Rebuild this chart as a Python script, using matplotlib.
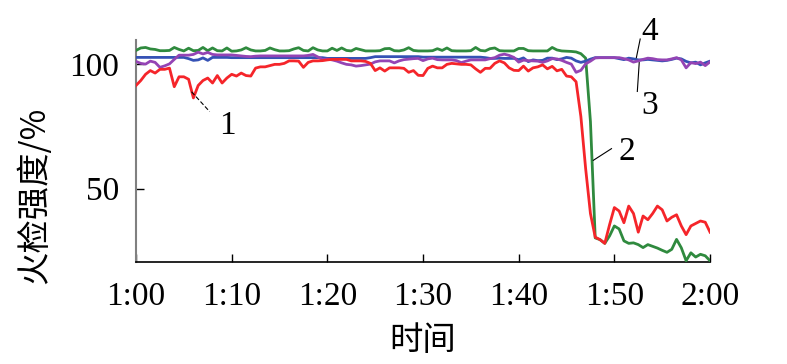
import numpy as np
import matplotlib.pyplot as plt

# --- datos (muestras cada 30 s, 1:00 - 2:00) ---
minutos = np.arange(0, 60.5, 0.5)
etiquetas_x = ["1:00", "1:10", "1:20", "1:30", "1:40", "1:50", "2:00"]
pos_x = [0, 10, 20, 30, 40, 50, 60]

rojo_1 = [
    91.5, 93.5, 96, 97.5, 96.5, 98, 98, 98.5, 91, 95,
    95, 94, 86.5, 91.5, 93.5, 94.5, 92.5, 95.5, 92.5, 94.5,
    96, 95.3, 96.5, 95.5, 95.3, 98.5, 99, 99, 99.5, 100,
    100, 100.4, 101.4, 101.4, 101.3, 98.8, 100.8, 101.4, 101.4, 101.5,
    101.8, 102, 102, 102, 102, 101.4, 101.4, 101.4, 101.2, 100.4,
    97.5, 98.6, 97.3, 98.6, 98.6, 98.6, 98.4, 96.8, 97.5, 95.6,
    95.5, 98.4, 99.3, 98.6, 98.6, 100, 100.4, 100.2, 100, 100,
    99.8, 98.2, 96.8, 98.4, 98.4, 100.4, 101.4, 100.6, 98.6, 97.6,
    97.5, 99.3, 97.3, 98.6, 99, 99.8, 98.2, 99.2, 97.4, 98,
    95.3, 95, 93, 79, 58, 40, 30.5, 29.5, 28, 35.5,
    42.4, 41, 36.3, 43, 40, 32.5, 39, 37.5, 40, 43,
    41.5, 37, 38.5, 39.5, 35, 31.5, 35, 36, 37, 36.5,
    32.5,
]

verde_2 = [
    105.6, 106.6, 106.8, 106.2, 106, 105.5, 105.5, 105.6, 106.8, 106,
    105.4, 106.5, 105.5, 105.6, 106.8, 105.5, 106.6, 105.5, 105.4, 106.6,
    105.3, 105.4, 105.8, 106.7, 105.8, 105.4, 105.4, 105.6, 106.6, 105.9,
    105.4, 105.4, 105.5, 106.2, 106.7, 105.6, 105.4, 106.7, 105.8, 105.4,
    105.4, 106.5, 105.6, 106.6, 105.6, 105.4, 106.4, 105.9, 105.4, 105.4,
    105.4, 105.5, 106.3, 106.4, 105.5, 105.4, 105.8, 106.7, 105.6, 105.4,
    105.4, 105.4, 105.5, 106.3, 105.6, 106.6, 105.5, 105.4, 105.4, 105.4,
    105.5, 106.8, 105.6, 105.4, 106.3, 106.6, 105.5, 105.4, 105.4, 105.4,
    106.4, 106.4, 105.5, 105.4, 105.4, 105.4, 105.4, 106.8, 105.8, 105.4,
    105.3, 105.2, 105, 104.3, 102.5, 77, 30.2, 29.5, 28, 31,
    35, 33.8, 29, 28, 28.2, 27.5, 26.3, 27.5, 26.8, 26.1,
    25.2, 24.4, 25.6, 29.6, 26.2, 21, 24.2, 22.5, 23.6, 23,
    21,
]

morado_3 = [
    101.2, 100.4, 100.1, 101.3, 100.8, 98.8, 99.4, 100.2, 102, 103.7,
    103.7, 103.7, 104, 104.9, 104.2, 104.8, 104, 103.8, 103.8, 103.8,
    103.8, 103.6, 103.4, 103.2, 103.1, 103.3, 103.4, 103.4, 103.4, 103.4,
    103.4, 103.4, 103.4, 103.4, 103.4, 103.4, 103.6, 104, 103, 102,
    102.1, 101.8, 101.3, 100.6, 100, 99.8, 99.3, 99.5, 99.8, 100.1,
    101, 101.4, 101.4, 101.4, 100.6, 101.4, 101.9, 102.1, 102.3, 102.4,
    101.5, 102.2, 102.5, 101.9, 101.8, 101.8, 101.8, 101.5, 100.7, 101.3,
    101.8, 101.8, 101.8, 101.8, 102.3, 102.7, 103.7, 104.1, 103.6, 102.8,
    100.9, 101.7, 101.5, 101.4, 101.3, 100.8, 101.4, 102.3, 102.2, 101.6,
    100.8, 100.1, 96.8, 97.6, 100.2, 101.3, 102.6, 102.7, 102.7, 102.7,
    102.7, 102.7, 102.3, 101.8, 100.9, 101.4, 102, 102.5, 102.3, 101.9,
    101.8, 101.8, 102.2, 102.7, 101.8, 98.6, 100.7, 100.3, 100.9, 99.5,
    101,
]

azul_4 = [
    102.8, 102.8, 102.8, 102.8, 102.8, 102.8, 102.8, 102.8, 102.8, 102.8,
    102.8, 102.3, 101.6, 101.8, 102.6, 101.6, 102.8, 102.8, 102.8, 102.8,
    102.7, 102.7, 102.7, 102.7, 102.7, 102.7, 102.7, 102.7, 102.7, 102.7,
    102.7, 102.7, 102.7, 102.7, 102.7, 102.7, 102.7, 102.7, 102.7, 102.7,
    102.4, 102.4, 102.4, 102.4, 102.4, 102.4, 102.4, 102.4, 102.4, 102.7,
    103.1, 103.1, 103.1, 103.1, 103.1, 103.1, 103.1, 103.1, 103.1, 103.1,
    102.9, 102.9, 102.9, 102.9, 102.9, 102.9, 102.9, 102.9, 102.9, 102.9,
    102.9, 102.9, 102.9, 102.7, 102.4, 102.4, 102.5, 102.4, 102.4, 102.4,
    101.9, 102.6, 101.1, 101.8, 101.5, 101.6, 102.5, 102.5, 101.9, 102.2,
    102.8, 102.5, 101.4, 100.8, 101.3, 102.1, 102.7, 102.7, 102.7, 102.7,
    102.7, 102.3, 101.9, 102.5, 102.2, 101.8, 101.8, 102, 101.8, 101.6,
    101.4, 101.6, 102, 102.5, 102.2, 101.2, 100.6, 100.9, 99.8, 100.6,
    101.3,
]

# --- etiquetas de curvas: (texto, posición del texto, inicio y fin de la guía) ---
etiquetas = [
    ("1", (9.6, 75.5), (5.8, 89.0), (7.7, 81.0)),
    ("2", (51.3, 64.8), (47.8, 61.4), (49.7, 66.1)),
    ("4", (53.7, 113.0), (52.3, 102.7), (52.7, 110.2)),
    ("3", (53.7, 83.5), (52.6, 100.7), (52.4, 89.1)),
]

# --- figura ---
fig = plt.figure(figsize=(7.87, 3.64), dpi=100)
ax = fig.add_axes([0.1728, 0.2802, 0.7294, 0.6099])

serif = ['Liberation Serif', 'DejaVu Serif']
cjk = ['Noto Sans CJK SC', 'Liberation Serif']

ax.plot(minutos, verde_2, color='#2f8a3e', lw=2.0, zorder=3)
ax.plot(minutos, azul_4, color='#3552b5', lw=2.0, zorder=4)
ax.plot(minutos, morado_3, color='#9444b4', lw=2.0, zorder=5)
ax.plot(minutos, rojo_1, color='#f5252a', lw=2.0, zorder=6)

for i, (txt, (tx, ty), p0, p1) in enumerate(etiquetas):
    estilo = (0, (4, 2)) if i == 0 else '-'
    ax.plot([p0[0], p1[0]], [p0[1], p1[1]], color='black', lw=0.8,
            ls=estilo, zorder=7, clip_on=False)
    ax.text(tx, ty, txt, fontsize=24, family=serif, ha='center', va='center',
            clip_on=False)

ax.set_xlim(0, 60)
ax.set_ylim(20.5, 109.8)
ax.set_xticks(pos_x)
ax.set_xticklabels(etiquetas_x, family=serif, fontsize=24)
ax.set_yticks([50, 100])
ax.set_yticklabels(["50", "100"], family=serif, fontsize=24)
ax.tick_params(axis='x', direction='in', length=6, width=1, pad=14)
ax.tick_params(axis='y', direction='in', length=6, width=1, pad=12)

ax.spines['top'].set_visible(False)
ax.spines['right'].set_visible(False)
ax.spines['left'].set_color('#808080')
ax.spines['left'].set_linewidth(1.5)
ax.spines['bottom'].set_linewidth(1.2)

ax.set_xlabel("时间", family=cjk, fontsize=24, labelpad=8)
ax.set_ylabel("火检强度/%", family=cjk, fontsize=24)
ax.yaxis.set_label_coords(-0.145, 0.30)

fig.savefig("out.png", dpi=100)
